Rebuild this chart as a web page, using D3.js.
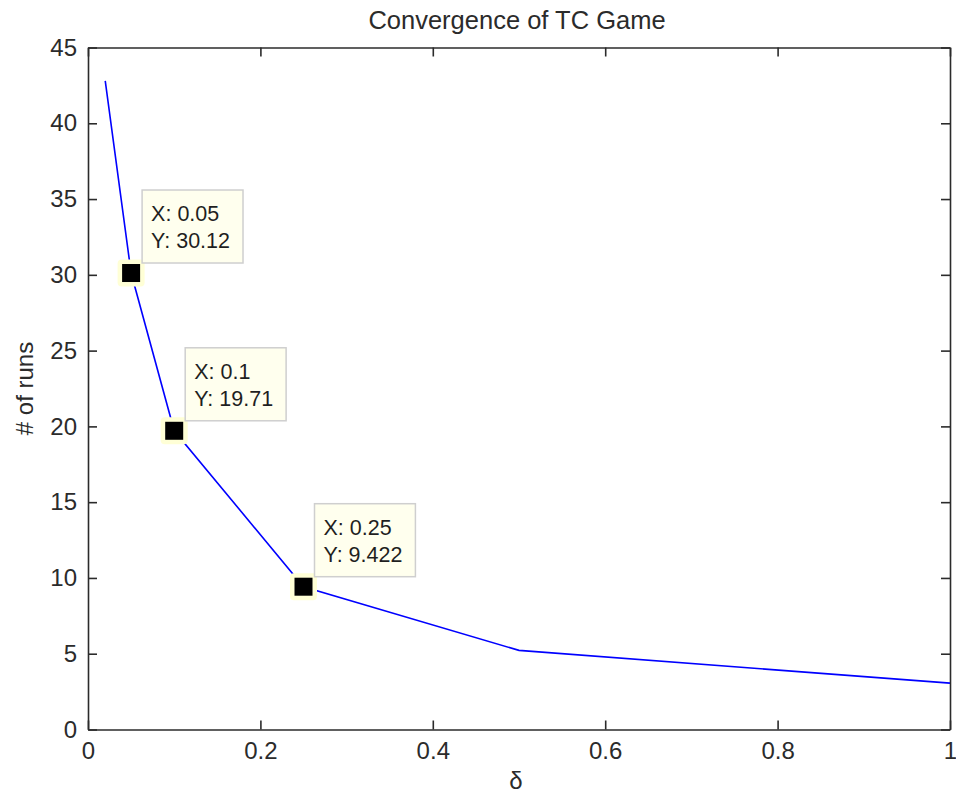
<!DOCTYPE html>
<html>
<head>
<meta charset="utf-8">
<script src="https://cdn.jsdelivr.net/npm/d3@7"></script>
<style>
  html, body { margin: 0; padding: 0; background: #fff; }
  svg { display: block; font-family: "Liberation Sans", Arial, sans-serif; }
</style>
</head>
<body>
<svg id="chart" width="956" height="796"></svg>
<script>
// Convergence data: number of runs versus delta
const deltaValues = [0.02, 0.05, 0.1, 0.25, 0.5, 1];
const runValues = [42.8, 30.12, 19.71, 9.422, 5.22, 3.06];

// Points that carry a data tip
const tipDeltas = [0.05, 0.1, 0.25];

const xTicks = [0, 0.2, 0.4, 0.6, 0.8, 1];
const yTicks = [0, 5, 10, 15, 20, 25, 30, 35, 40, 45];

const titleText = "Convergence of TC Game";
const xLabel = "\u03B4";
const yLabel = "# of runs";

const W = 956, H = 796;
const m = { left: 88, right: 6, top: 47.5, bottom: 66.5 };
const svg = d3.select("#chart");
const ink = "#2b2b2b";

const x = d3.scaleLinear().domain([0, 1]).range([m.left, W - m.right]);
const y = d3.scaleLinear().domain([0, 45]).range([H - m.bottom, m.top]);

const x0 = x.range()[0], x1 = x.range()[1];
const y0 = y.range()[0], y1 = y.range()[1];
const tickLen = 9;
const fmtTick = d3.format("~g");

// Axes: bottom/left with labels, top/right mirrored ticks, all pointing inward
const gB = svg.append("g").attr("transform", `translate(0,${y0})`)
  .call(d3.axisBottom(x).tickValues(xTicks).tickFormat(fmtTick).tickSizeInner(-tickLen).tickSizeOuter(0));
const gT = svg.append("g").attr("transform", `translate(0,${y1})`)
  .call(d3.axisTop(x).tickValues(xTicks).tickFormat("").tickSizeInner(-tickLen).tickSizeOuter(0));
const gL = svg.append("g").attr("transform", `translate(${x0},0)`)
  .call(d3.axisLeft(y).tickValues(yTicks).tickFormat(fmtTick).tickSizeInner(-tickLen).tickSizeOuter(0));
const gR = svg.append("g").attr("transform", `translate(${x1},0)`)
  .call(d3.axisRight(y).tickValues(yTicks).tickFormat("").tickSizeInner(-tickLen).tickSizeOuter(0));

[gB, gT, gL, gR].forEach(g => {
  g.select(".domain").attr("stroke", ink).attr("stroke-width", 1.6);
  g.selectAll(".tick line").attr("stroke", ink).attr("stroke-width", 1.6);
  g.selectAll(".tick text").attr("fill", ink).attr("font-size", 24)
    .attr("font-family", "\"Liberation Sans\", Arial, sans-serif");
});
gB.selectAll(".tick text").attr("dy", "0.71em").attr("y", 12);
gL.selectAll(".tick text").attr("x", -11);

// Series line
const line = d3.line().x((d, i) => x(deltaValues[i])).y(d => y(d));
svg.append("path")
  .datum(runValues)
  .attr("d", line)
  .attr("fill", "none")
  .attr("stroke", "#0000ff")
  .attr("stroke-width", 1.6);

// Data tips: highlighted marker plus a label box with X/Y readouts
const fmtTip = d3.format(".4~g");
const tips = tipDeltas.map(d => {
  const i = deltaValues.indexOf(d);
  return { xv: deltaValues[i], yv: runValues[i] };
});

const tipG = svg.append("g").selectAll("g").data(tips).join("g")
  .attr("transform", d => `translate(${x(d.xv)},${y(d.yv)})`);

tipG.append("rect")
  .attr("x", -13.5).attr("y", -13.5).attr("width", 27).attr("height", 27)
  .attr("rx", 4).attr("fill", "#ffffd6");
tipG.append("rect")
  .attr("x", -9).attr("y", -9).attr("width", 18).attr("height", 18)
  .attr("fill", "#000");

const boxX = 11, boxBottom = -10, boxH = 73;
const box = tipG.append("rect")
  .attr("x", boxX).attr("y", boxBottom - boxH).attr("height", boxH)
  .attr("fill", "#ffffee").attr("stroke", "#cfcfcf").attr("stroke-width", 1.5);

const t1 = tipG.append("text")
  .attr("x", boxX + 9).attr("y", boxBottom - boxH + 31)
  .attr("font-size", 21.5).attr("fill", "#1f1f1f")
  .text(d => "X: " + fmtTip(d.xv));
const t2 = tipG.append("text")
  .attr("x", boxX + 9).attr("y", boxBottom - boxH + 58)
  .attr("font-size", 21.5).attr("fill", "#1f1f1f")
  .text(d => "Y: " + fmtTip(d.yv));

box.attr("width", (d, i, nodes) => {
  const g = nodes[i].parentNode;
  const w = d3.max(d3.select(g).selectAll("text").nodes(), n => n.getComputedTextLength());
  return w + 22;
});

// Title and axis labels
svg.append("text")
  .attr("x", (x0 + x1) / 2 - 2).attr("y", 29)
  .attr("text-anchor", "middle").attr("font-size", 25.5).attr("fill", ink)
  .text(titleText);

svg.append("text")
  .attr("x", (x0 + x1) / 2 - 3).attr("y", 789)
  .attr("text-anchor", "middle").attr("font-size", 24).attr("fill", ink)
  .text(xLabel);

svg.append("text")
  .attr("transform", `translate(33,${(y0 + y1) / 2}) rotate(-90)`)
  .attr("text-anchor", "middle").attr("font-size", 24).attr("fill", ink)
  .text(yLabel);
</script>
</body>
</html>
